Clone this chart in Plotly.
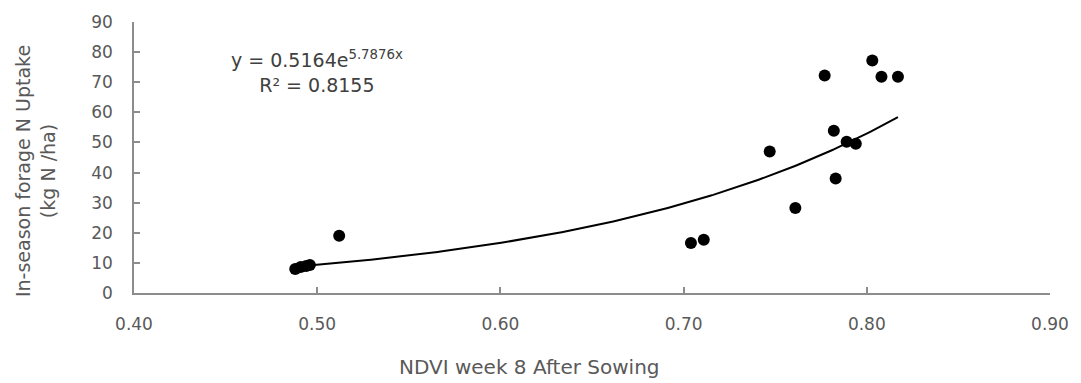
import numpy as np
import plotly.graph_objects as go

# Data
ndvi = [0.488, 0.491, 0.494, 0.496, 0.512, 0.704, 0.711, 0.747, 0.761,
        0.777, 0.782, 0.783, 0.789, 0.794, 0.803, 0.808, 0.817]
n_uptake = [8.0, 8.6, 9.0, 9.3, 19.0, 16.6, 17.7, 47.0, 28.2,
            72.2, 53.9, 38.0, 50.2, 49.6, 77.2, 71.8, 71.8]

# Exponential trendline coefficients (as printed on the chart)
coef_a = 0.5164
coef_b = 5.7876
r_squared = 0.8155

x_ticks = [0.40, 0.50, 0.60, 0.70, 0.80, 0.90]
y_ticks = [0, 10, 20, 30, 40, 50, 60, 70, 80, 90]

trend_x = np.linspace(min(ndvi), max(ndvi), 200)
trend_y = coef_a * np.exp(coef_b * trend_x)

FONT = "DejaVu Sans"
TXT = "#595959"
AXIS = "#8c8c8c"

fig = go.Figure()
fig.add_trace(go.Scatter(x=trend_x, y=trend_y, mode="lines",
                         line=dict(color="black", width=2), hoverinfo="skip"))
fig.add_trace(go.Scatter(x=ndvi, y=n_uptake, mode="markers",
                         marker=dict(color="black", size=12)))

fig.update_layout(
    width=1081, height=383,
    margin=dict(l=134, r=24, t=19, b=90),
    paper_bgcolor="white", plot_bgcolor="white",
    showlegend=False,
    font=dict(family=FONT, size=17, color=TXT),
    xaxis=dict(range=[0.40, 0.90], tickvals=x_ticks,
               ticktext=[f"{v:.2f}" for v in x_ticks],
               showgrid=False, zeroline=False, showline=True,
               linecolor=AXIS, linewidth=1.5, ticks="inside", ticklen=6,
               tickcolor=AXIS, tickwidth=1.5, ticklabelstandoff=15,
               tickfont=dict(family=FONT, size=17, color=TXT)),
    yaxis=dict(range=[0, 90], tickvals=y_ticks,
               showgrid=False, zeroline=False, showline=True,
               linecolor=AXIS, linewidth=1.5, ticks="inside", ticklen=6,
               tickcolor=AXIS, tickwidth=1.5, ticklabelstandoff=16,
               tickfont=dict(family=FONT, size=17, color=TXT)),
)

fig.add_annotation(xref="paper", yref="paper", x=(533 - 134) / 923, y=(293 - 368) / 274,
                   text="NDVI week 8 After Sowing", showarrow=False,
                   font=dict(family=FONT, size=20, color=TXT),
                   xanchor="center", yanchor="middle")
fig.add_annotation(xref="paper", yref="paper", x=(35 - 134) / 923, y=(293 - 170) / 274,
                   text="In-season forage N Uptake<br>(kg N /ha)",
                   textangle=-90, showarrow=False,
                   font=dict(family=FONT, size=19, color=TXT),
                   xanchor="center", yanchor="middle")
fig.add_annotation(xref="paper", yref="paper", x=(318 - 134) / 923, y=(293 - 69) / 274,
                   text=f"y = {coef_a}e<sup>{coef_b}x</sup><br>R² = {r_squared}",
                   showarrow=False, align="center",
                   font=dict(family=FONT, size=19, color="#404040"),
                   xanchor="center", yanchor="middle")

fig.write_html("out.html")
